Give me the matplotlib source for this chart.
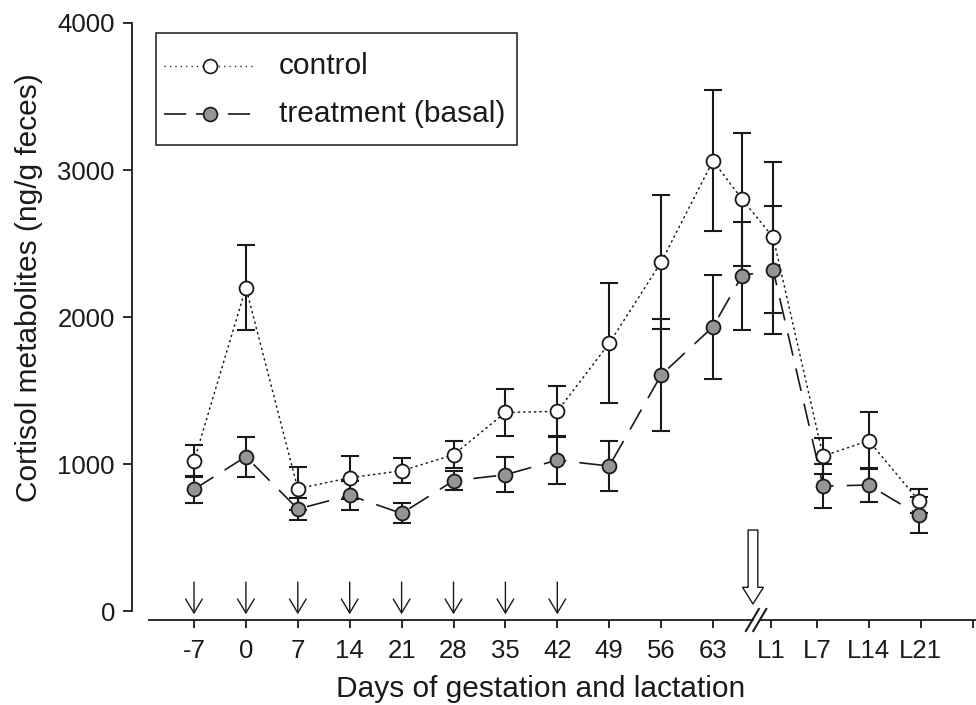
import matplotlib
matplotlib.use("Agg")
import matplotlib.pyplot as plt
from matplotlib.lines import Line2D
from matplotlib.patches import FancyArrowPatch, Rectangle

plt.rcParams['font.family'] = ['Liberation Sans', 'DejaVu Sans']
plt.rcParams['lines.scale_dashes'] = False

# ---- data ----
tick_labels = ["-7", "0", "7", "14", "21", "28", "35", "42", "49", "56", "63",
               "L1", "L7", "L14", "L21", ""]
tick_pos = [0, 1, 2, 3, 4, 5, 6, 7, 8, 9, 10, 11.12, 12, 13, 14, 15]

sample_pos = [0, 1, 2, 3, 4, 5, 6, 7, 8, 9, 10, 10.56, 11.16, 12.12, 13.0, 13.97]
control_mean = [1020, 2200, 832, 907, 954, 1063, 1351, 1358, 1821, 2372, 3063,
                2801, 2542, 1054, 1159, 748]
control_se = [108, 290, 145, 147, 85, 92, 162, 170, 408, 455, 480,
              451, 513, 125, 195, 80]
treat_mean = [828, 1050, 694, 787, 664, 886, 927, 1027, 986, 1605, 1934,
              2281, 2320, 850, 857, 653]
treat_se = [90, 137, 75, 100, 68, 66, 120, 160, 170, 380, 355,
            367, 433, 147, 115, 125]

series_labels = ["control", "treatment (basal)"]
injection_pos = [0, 1, 2, 3, 4, 5, 6, 7]   # days -7 ... 42
parturition_pos = 10.77
break_pos = 10.83

# ---- figure ----
W, H = 976, 705
fig = plt.figure(figsize=(W / 100, H / 100), dpi=100)
ax_l, ax_r, ax_t, ax_b = 149, 976, 23, 620
ax = fig.add_axes([ax_l / W, 1 - ax_b / H, (ax_r - ax_l) / W, (ax_b - ax_t) / H])

px_per_unit = 51.9
x0 = -(194 - ax_l) / px_per_unit
x1 = (ax_r - 194) / px_per_unit
ax.set_xlim(x0, x1)
ax.set_ylim(-61, 4000)

ink = '#1a1a1a'
grey = '#959595'
dot_style = (0, (0.9, 3.0))
dash_style = (0, (16.5, 9.5))

# lines
ax.plot(sample_pos, control_mean, color=ink, lw=1.1, linestyle=dot_style,
        dash_capstyle='round', zorder=2)
ax.plot(sample_pos, treat_mean, color=ink, lw=1.2, linestyle=dash_style, zorder=2)

# error bars
ax.errorbar(sample_pos, control_mean, yerr=control_se, fmt='none', ecolor=ink,
            elinewidth=1.5, capsize=6.5, capthick=1.5, zorder=3)
ax.errorbar(sample_pos, treat_mean, yerr=treat_se, fmt='none', ecolor=ink,
            elinewidth=1.5, capsize=6.5, capthick=1.5, zorder=3)

# markers
ax.plot(sample_pos, control_mean, 'o', ms=10, mfc='white', mec=ink, mew=1.3,
        linestyle='none', zorder=5)
ax.plot(sample_pos, treat_mean, 'o', ms=10, mfc=grey, mec=ink, mew=1.3,
        linestyle='none', zorder=5)

# spines
for s in ['top', 'right', 'bottom']:
    ax.spines[s].set_visible(False)
ax.spines['left'].set_position(('outward', 12))
ax.spines['left'].set_bounds(0, 4000)
ax.spines['left'].set_linewidth(1.3)
ax.spines['left'].set_color(ink)

# x axis line with break
xt = ax.get_xaxis_transform()
gap_l = break_pos - 3.5 / px_per_unit
gap_r = break_pos + 3.5 / px_per_unit
ax.add_line(Line2D([x0, gap_l], [0, 0], transform=xt, color=ink, lw=1.3, clip_on=False))
ax.add_line(Line2D([gap_r, x1], [0, 0], transform=xt, color=ink, lw=1.3, clip_on=False))
ax_w_px = ax_r - ax_l
ax_h_px = ax_b - ax_t
for off in (-3.7, 3.7):
    cxa = (break_pos - x0) / (x1 - x0) + off / ax_w_px
    dx = 6.5 / ax_w_px
    dy = 11 / ax_h_px
    ax.add_line(Line2D([cxa - dx, cxa + dx], [-dy, dy], transform=ax.transAxes,
                       color=ink, lw=1.5, clip_on=False))

ax.set_xticks(tick_pos)
ax.set_xticklabels(tick_labels)
ax.set_yticks([0, 1000, 2000, 3000, 4000])
ax.set_yticklabels(["0", "1000", "2000", "3000", "4000"])
ax.tick_params(axis='x', direction='out', length=6, width=1.3, color=ink,
               labelsize=18.5, pad=8, labelcolor=ink)
ax.tick_params(axis='y', direction='out', length=6.5, width=1.3, color=ink,
               labelsize=18.5, pad=6, labelcolor=ink)

# injection arrows
for p in injection_pos:
    a = FancyArrowPatch((p, 197), (p, -22), arrowstyle='->,head_length=10,head_width=6',
                        mutation_scale=1, color=ink, lw=1.0, shrinkA=0, shrinkB=0,
                        clip_on=False, zorder=4)
    ax.add_patch(a)

# parturition arrow
big = FancyArrowPatch((parturition_pos, 551), (parturition_pos, 48),
                      arrowstyle='simple,head_length=12,head_width=15,tail_width=7',
                      mutation_scale=1, facecolor='white', edgecolor=ink, lw=1.0,
                      shrinkA=0, shrinkB=0, clip_on=False, zorder=4)
ax.add_patch(big)

# axis labels
fig.text(541 / W, 1 - 697 / H, "Days of gestation and lactation", ha='center',
         va='baseline', fontsize=21.5, color=ink)
fig.text(29 / W, 1 - 288 / H, "Cortisol metabolites (ng/g feces)", ha='center',
         va='center', rotation=90, fontsize=21.5, color=ink)

# legend (drawn in figure pixel coordinates)
def fx(x):
    return x / W

def fy(y):
    return 1 - y / H

fig.patches.append(Rectangle((fx(156), fy(145)), (517 - 156) / W, (145 - 33) / H,
                             transform=fig.transFigure, facecolor='white',
                             edgecolor=ink, lw=1.1, zorder=10))
rows = [(66, dot_style, 'white', 1.0), (114, (0, (16, 7)), grey, 1.2)]
for (yy, ls, fc, lw), lab in zip(rows, series_labels):
    fig.lines.append(Line2D([fx(164), fx(254)], [fy(yy), fy(yy)], transform=fig.transFigure,
                            color=ink, lw=lw, linestyle=ls, zorder=11))
    fig.lines.append(Line2D([fx(210)], [fy(yy)], transform=fig.transFigure, marker='o',
                            ms=10, mfc=fc, mec=ink, mew=1.2, linestyle='none', zorder=12))
    fig.text(fx(279), fy(yy), lab, ha='left', va='center', fontsize=21.5, color=ink,
             zorder=12)

fig.savefig("out.png", dpi=100)
